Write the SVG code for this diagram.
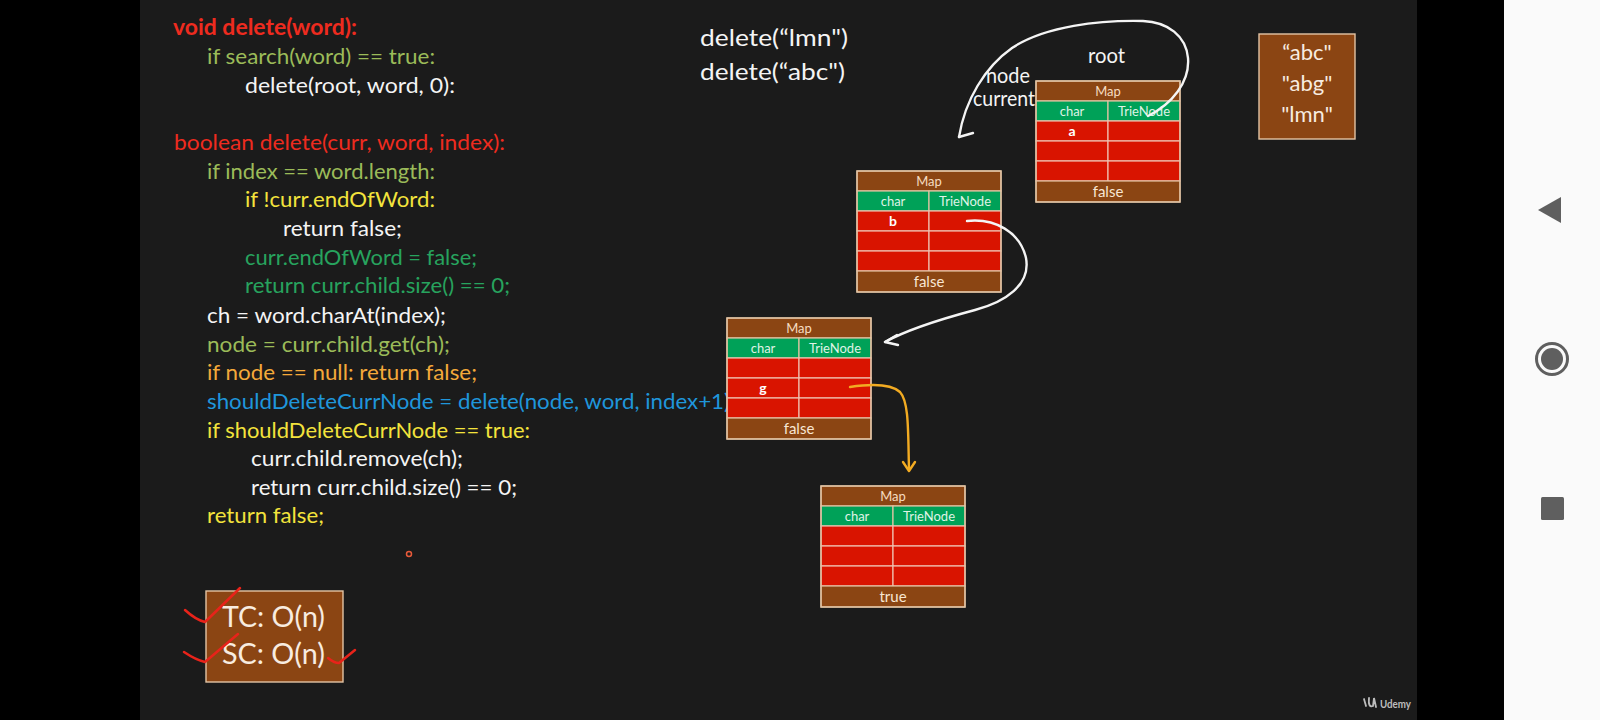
<svg xmlns="http://www.w3.org/2000/svg" width="1600" height="720" viewBox="0 0 1600 720">
<style>
text{font-family:Lato,"Liberation Sans",sans-serif}
.code{font-size:22px}
.red{fill:#ee2b1f}.lg{fill:#9bbb59}.wh{fill:#f4f4f4}.dg{fill:#27a35e}.ye{fill:#f3e33c}.or{fill:#f4a93a}.bl{fill:#1f96db}
.cb{fill:#8b4513;stroke:#e3c4a4;stroke-width:1.2}
.cg{fill:#00a158;stroke:#e3c4a4;stroke-width:1.2}
.cr{fill:#d91400;stroke:#eec0b0;stroke-width:1.2}
.mt{font-size:13px;fill:#f6dcc0;text-anchor:middle}
.ht{font-size:13px;fill:#dff3e6;text-anchor:middle}
.ft{font-size:15px;fill:#f8e6d2;text-anchor:middle}
.lt{font-size:14px;font-weight:bold;fill:#ffffff;text-anchor:middle}
.lbl{font-size:21px;fill:#f4f4f4}
.wire{fill:none;stroke:#f4f4f4;stroke-width:2.4;stroke-linecap:round;stroke-linejoin:round}
.owire{fill:none;stroke:#f2ab22;stroke-width:2.4;stroke-linecap:round;stroke-linejoin:round}
.chk{fill:none;stroke:#e8231a;stroke-width:2.5;stroke-linecap:round;stroke-linejoin:round}
</style>
<defs>
<g id="mapbox">
<rect class="cb" x="0" y="0" width="144" height="20"/>
<rect class="cg" x="0" y="20" width="72" height="20"/>
<rect class="cg" x="72" y="20" width="72" height="20"/>
<rect class="cr" x="0" y="40" width="72" height="20"/>
<rect class="cr" x="72" y="40" width="72" height="20"/>
<rect class="cr" x="0" y="60" width="72" height="20"/>
<rect class="cr" x="72" y="60" width="72" height="20"/>
<rect class="cr" x="0" y="80" width="72" height="20"/>
<rect class="cr" x="72" y="80" width="72" height="20"/>
<rect class="cb" x="0" y="100" width="144" height="21"/>
<rect x="0" y="0" width="144" height="121" fill="none" stroke="#e3c4a4" stroke-width="1.4"/>
<text class="mt" x="72" y="14.5">Map</text>
<text class="ht" x="36" y="34.5">char</text>
<text class="ht" x="108" y="34.5">TrieNode</text>
</g>
</defs>
<rect x="0" y="0" width="1600" height="720" fill="#000"/>
<rect x="140" y="0" width="1277" height="720" fill="#1b1b1b"/>
<rect x="1504" y="0" width="96" height="720" fill="#fafafa"/>

<g id="code" class="code">
<text class="red" x="173" y="35" font-weight="bold" textLength="184" lengthAdjust="spacingAndGlyphs">void delete(word):</text>
<text class="lg" x="207" y="64" textLength="228" lengthAdjust="spacingAndGlyphs">if search(word) == true:</text>
<text class="wh" x="245" y="93" textLength="210" lengthAdjust="spacingAndGlyphs">delete(root, word, 0):</text>
<text class="red" x="174" y="150" textLength="331" lengthAdjust="spacingAndGlyphs">boolean delete(curr, word, index):</text>
<text class="lg" x="207" y="179" textLength="228" lengthAdjust="spacingAndGlyphs">if index == word.length:</text>
<text class="ye" x="245" y="207" textLength="190" lengthAdjust="spacingAndGlyphs">if !curr.endOfWord:</text>
<text class="wh" x="283" y="236" textLength="119" lengthAdjust="spacingAndGlyphs">return false;</text>
<text class="dg" x="245" y="265" textLength="232" lengthAdjust="spacingAndGlyphs">curr.endOfWord = false;</text>
<text class="dg" x="245" y="293" textLength="265" lengthAdjust="spacingAndGlyphs">return curr.child.size() == 0;</text>
<text class="wh" x="207" y="323" textLength="239" lengthAdjust="spacingAndGlyphs">ch = word.charAt(index);</text>
<text class="lg" x="207" y="352" textLength="243" lengthAdjust="spacingAndGlyphs">node = curr.child.get(ch);</text>
<text class="or" x="207" y="380" textLength="270" lengthAdjust="spacingAndGlyphs">if node == null: return false;</text>
<text class="bl" x="207" y="409" textLength="523" lengthAdjust="spacingAndGlyphs">shouldDeleteCurrNode = delete(node, word, index+1)</text>
<text class="ye" x="207" y="438" textLength="323" lengthAdjust="spacingAndGlyphs">if shouldDeleteCurrNode == true:</text>
<text class="wh" x="251" y="466" textLength="212" lengthAdjust="spacingAndGlyphs">curr.child.remove(ch);</text>
<text class="wh" x="251" y="495" textLength="266" lengthAdjust="spacingAndGlyphs">return curr.child.size() == 0;</text>
<text class="ye" x="207" y="523" textLength="117" lengthAdjust="spacingAndGlyphs">return false;</text>
</g>

<g id="calls">
<text x="700" y="46" font-size="24" fill="#f4f4f4" textLength="148" lengthAdjust="spacingAndGlyphs">delete(“lmn")</text>
<text x="700" y="80" font-size="24" fill="#f4f4f4" textLength="145" lengthAdjust="spacingAndGlyphs">delete(“abc")</text>
</g>

<g id="labels">
<text class="lbl" x="1088" y="63" textLength="37" lengthAdjust="spacingAndGlyphs">root</text>
<text class="lbl" x="986" y="83" textLength="44" lengthAdjust="spacingAndGlyphs">node</text>
<text class="lbl" x="973" y="106" textLength="62" lengthAdjust="spacingAndGlyphs">current</text>
</g>

<g id="map-root" transform="translate(1036,81)">
<use href="#mapbox"/>
<text class="lt" x="36" y="55">a</text>
<text class="ft" x="72" y="116">false</text>
</g>
<g id="map-b" transform="translate(857,171)">
<use href="#mapbox"/>
<text class="lt" x="36" y="55">b</text>
<text class="ft" x="72" y="116">false</text>
</g>
<g id="map-g" transform="translate(727,318)">
<use href="#mapbox"/>
<text class="lt" x="36" y="75">g</text>
<text class="ft" x="72" y="116">false</text>
</g>
<g id="map-true" transform="translate(821,486)">
<use href="#mapbox"/>
<text class="ft" x="72" y="116">true</text>
</g>

<g id="words">
<rect x="1259" y="34" width="96" height="105" fill="#8b4513" stroke="#e3c4a4" stroke-width="1.4"/>
<text x="1307" y="60" font-size="22" fill="#f8ece0" text-anchor="middle">“abc"</text>
<text x="1307" y="91" font-size="22" fill="#f8ece0" text-anchor="middle">"abg"</text>
<text x="1307" y="122" font-size="22" fill="#f8ece0" text-anchor="middle">"lmn"</text>
</g>

<g id="complexity">
<rect x="206" y="591" width="137" height="91" fill="#8b4513" stroke="#e3c4a4" stroke-width="1.4"/>
<text x="222" y="627" font-size="28" fill="#f8ece0" textLength="103" lengthAdjust="spacingAndGlyphs">TC: O(n)</text>
<text x="222" y="664" font-size="28" fill="#f8ece0" textLength="103" lengthAdjust="spacingAndGlyphs">SC: O(n)</text>
</g>

<g id="connectors">
<path class="wire" d="M1148,116 C1172,104 1190,82 1188,58 C1186,36 1168,22 1143,21 C1100,20 1045,26 1012,48 C985,67 965,100 959,137"/>
<path class="wire" d="M959,137 L973,133"/>
<path class="wire" d="M967,221 C995,218 1020,232 1026,258 C1031,285 1005,302 975,310 C945,318 910,328 885,342"/>
<path class="wire" d="M897,335 L885,342 L898,345"/>
<path class="owire" d="M850,387 C870,384 890,383 900,392 C909,402 908,430 909,470"/>
<path class="owire" d="M903,462 L909,471 L915,462"/>
</g>

<g id="ticks">
<path class="chk" d="M185,610 Q196,620 205,622 L240,588"/>
<path class="chk" d="M184,652 Q196,660 205,662 L238,634"/>
<path class="chk" d="M328,658 Q334,663 339,663 L355,650"/>
</g>

<circle cx="409" cy="554" r="2.5" fill="none" stroke="#e85a3a" stroke-width="1.5"/>

<g id="udemy">
<path d="M1364,699 L1366,706 M1369,698 Q1368,708 1373,706 L1374,698 L1376,707" fill="none" stroke="#bdbdbd" stroke-width="1.8" stroke-linecap="round"/>
<text x="1380" y="708" font-size="11" font-weight="bold" fill="#bdbdbd" textLength="31" lengthAdjust="spacingAndGlyphs">Udemy</text>
</g>

<g id="navbar">
<path d="M1538,210 L1561,197 L1561,223 Z" fill="#5f5f5f"/>
<circle cx="1552" cy="359" r="15.5" fill="none" stroke="#5f5f5f" stroke-width="3"/>
<circle cx="1552" cy="359" r="11" fill="#5f5f5f"/>
<rect x="1541" y="497" width="23" height="23" rx="1.5" fill="#5f5f5f"/>
</g>
</svg>
